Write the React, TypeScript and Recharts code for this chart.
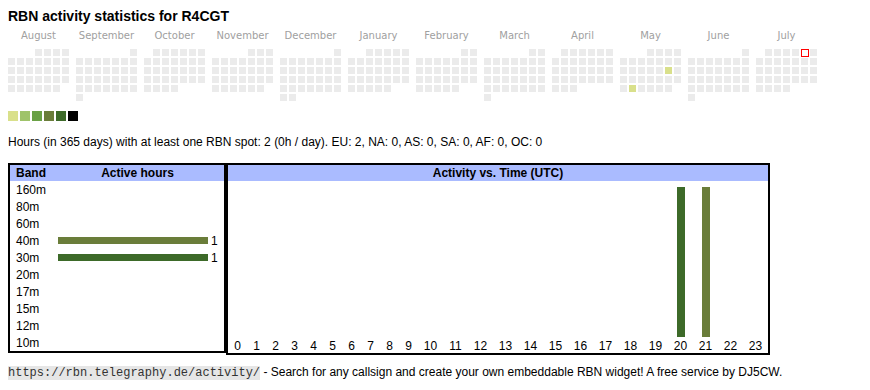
import React from 'react';
import { ScatterChart, Scatter, XAxis, YAxis, BarChart, Bar, Cell, LabelList } from 'recharts';

const MONTHS = ['August', 'September', 'October', 'November', 'December', 'January', 'February', 'March', 'April', 'May', 'June', 'July'];
const MONTH_DAYS = [31, 30, 31, 30, 31, 31, 28, 31, 30, 31, 30, 31];
// weekday of the 1st, Monday = 0 (Aug 2024 .. Jul 2025)
const MONTH_FIRST_WEEKDAY = [3, 6, 1, 4, 6, 2, 5, 5, 1, 3, 6, 1];
const ACTIVE_DAYS = [
  { month: 'May', day: 17, level: 1 },
  { month: 'May', day: 27, level: 1 },
];
const TODAY = { month: 'July', day: 5 };
const LEVEL_COLORS = ['#d9e08b', '#9fc36a', '#6aa146', '#6a7d3a', '#3d6a29', '#000000'];

const BANDS = ['160m', '80m', '60m', '40m', '30m', '20m', '17m', '15m', '12m', '10m'];
const BAND_HOURS = [0, 0, 0, 1, 1, 0, 0, 0, 0, 0];
const BAND_COLORS: Record<string, string> = { '40m': '#6a7d3a', '30m': '#3d6a29' };

const HOURS = [0, 1, 2, 3, 4, 5, 6, 7, 8, 9, 10, 11, 12, 13, 14, 15, 16, 17, 18, 19, 20, 21, 22, 23];
const HOURLY_30M = [0, 0, 0, 0, 0, 0, 0, 0, 0, 0, 0, 0, 0, 0, 0, 0, 0, 0, 0, 0, 1, 0, 0, 0];
const HOURLY_40M = [0, 0, 0, 0, 0, 0, 0, 0, 0, 0, 0, 0, 0, 0, 0, 0, 0, 0, 0, 0, 0, 1, 0, 0];

const FONT = "'Liberation Sans', Arial, sans-serif";

// calendar: one block of 7 weekday columns per month, 9px per cell, 68px per month
const MONTH_STEP = 68 / 9;
const X_MAX = (MONTHS.length - 1) * MONTH_STEP + 6;
const calendar = MONTHS.flatMap((m, mi) =>
  Array.from({ length: MONTH_DAYS[mi] }, (_, d) => {
    const slot = MONTH_FIRST_WEEKDAY[mi] + d;
    const act = ACTIVE_DAYS.find(a => a.month === m && a.day === d + 1);
    return {
      x: mi * MONTH_STEP + (slot % 7),
      row: Math.floor(slot / 7),
      level: act ? act.level : 0,
      today: TODAY.month === m && TODAY.day === d + 1,
    };
  })
);
const monthTicks = MONTHS.map((_, i) => i * MONTH_STEP + 3);

const DayCell = (props: any) => {
  const { cx, cy, payload } = props;
  if (payload.today) {
    // red frame around today's (empty) cell
    return (
      <g>
        <rect x={cx - 3.5} y={cy - 3.5} width={8} height={8} fill="#ff0000" />
        <rect x={cx - 2.5} y={cy - 2.5} width={6} height={6} fill="#ffffff" />
      </g>
    );
  }
  const fill = payload.level ? LEVEL_COLORS[payload.level - 1] : '#ebebeb';
  return <rect x={cx - 3.5} y={cy - 3.5} width={7} height={7} fill={fill} />;
};

const bandData = BANDS.map((b, i) => ({ band: b, hours: BAND_HOURS[i] }));

const BandTick = ({ y, payload }: any) => (
  <text x={6} y={y} dy="0.355em" fontSize={12} fontFamily={FONT} fill="#000">
    {payload.value}
  </text>
);

// hour columns are as wide as their label: one digit 19px, two digits 25px
const colWidth = (h: number) => (String(h).length === 1 ? 19 : 25);
const hourCenters = HOURS.map((h, i) => HOURS.slice(0, i).reduce((s, k) => s + colWidth(k), 0) + colWidth(h) / 2);
const hourTotal = HOURS.reduce((s, h) => s + colWidth(h), 0);
const hourData = HOURS.map((h, i) => ({ hour: h, pos: hourCenters[i], b30: HOURLY_30M[i], b40: HOURLY_40M[i] }));

export default function App() {
  return (
    <div style={{ position: 'absolute', left: 0, top: 0, width: 870, height: 390, background: '#fff', fontFamily: FONT, color: '#000' }}>
      <div style={{ position: 'absolute', left: 8, top: 8, fontSize: 14, lineHeight: '16px', fontWeight: 'bold', whiteSpace: 'nowrap' }}>
        RBN activity statistics for R4CGT
      </div>

      <div style={{ position: 'absolute', left: 0, top: 20 }}>
        <ScatterChart width={822} height={82} margin={{ top: 0, right: 4, bottom: 0, left: 7 }}>
          <XAxis
            type="number"
            dataKey="x"
            domain={[-0.5, X_MAX + 0.5]}
            ticks={monthTicks}
            tickFormatter={(v: number) => MONTHS[Math.round((v - 3) / MONTH_STEP)]}
            orientation="top"
            height={28}
            axisLine={false}
            tickLine={false}
            tickSize={7}
            tickMargin={2.5}
            interval={0}
            tick={{ fill: '#a0a0a0', fontSize: 10, fontFamily: "'DejaVu Sans', Verdana, sans-serif" }}
          />
          <YAxis type="number" dataKey="row" domain={[-0.5, 5.5]} reversed hide width={0} />
          <Scatter data={calendar} shape={DayCell} isAnimationActive={false} />
        </ScatterChart>
      </div>

      {LEVEL_COLORS.map((c, i) => (
        <div key={c} style={{ position: 'absolute', left: 8 + i * 12, top: 111, width: 10, height: 10, background: c }} />
      ))}

      <div style={{ position: 'absolute', left: 8, top: 134, fontSize: 12, lineHeight: '16px', whiteSpace: 'nowrap' }}>
        Hours (in 365 days) with at least one RBN spot: 2 (0h / day). EU: 2, NA: 0, AS: 0, SA: 0, AF: 0, OC: 0
      </div>

      {/* band table */}
      <div style={{ position: 'absolute', left: 8, top: 163, width: 218, height: 190, border: '2px solid #000', boxSizing: 'border-box' }} />
      <div style={{ position: 'absolute', left: 10, top: 165, width: 214, height: 16, background: '#aabbff' }} />
      <div style={{ position: 'absolute', left: 16, top: 165, fontSize: 12, lineHeight: '16px', fontWeight: 'bold' }}>Band</div>
      <div style={{ position: 'absolute', left: 51, top: 165, width: 173, textAlign: 'center', fontSize: 12, lineHeight: '16px', fontWeight: 'bold' }}>
        Active hours
      </div>
      <div style={{ position: 'absolute', left: 10, top: 181 }}>
        <BarChart layout="vertical" width={214} height={170} data={bandData} margin={{ top: 0, right: 16, bottom: 0, left: 0 }} barCategoryGap={0}>
          <XAxis type="number" domain={[0, 'dataMax']} hide />
          <YAxis type="category" dataKey="band" width={48} axisLine={false} tickLine={false} tick={<BandTick />} interval={0} />
          <Bar dataKey="hours" barSize={7} isAnimationActive={false}>
            {bandData.map(d => (
              <Cell key={d.band} fill={BAND_COLORS[d.band] || '#6a7d3a'} />
            ))}
            <LabelList
              dataKey="hours"
              position="right"
              offset={3}
              formatter={(v: any) => (v ? v : '')}
              fill="#000"
              fontSize={12}
              fontFamily={FONT}
            />
          </Bar>
        </BarChart>
      </div>

      {/* activity vs time */}
      <div style={{ position: 'absolute', left: 226, top: 163, width: 544, height: 192, border: '2px solid #000', boxSizing: 'border-box' }} />
      <div style={{ position: 'absolute', left: 228, top: 165, width: 540, height: 16, background: '#aabbff' }} />
      <div style={{ position: 'absolute', left: 228, top: 165, width: 540, textAlign: 'center', fontSize: 12, lineHeight: '16px', fontWeight: 'bold' }}>
        Activity vs. Time (UTC)
      </div>
      <div style={{ position: 'absolute', left: 228, top: 181 }}>
        <BarChart width={hourTotal} height={172} data={hourData} margin={{ top: 6, right: 0, bottom: 0, left: 0 }}>
          <XAxis
            type="number"
            dataKey="pos"
            domain={[0, hourTotal]}
            ticks={hourCenters}
            tickFormatter={(v: number) => String(HOURS[hourCenters.indexOf(v)])}
            height={16}
            axisLine={false}
            tickLine={false}
            tickSize={0}
            tickMargin={4}
            interval={0}
            tick={{ fill: '#000', fontSize: 12, fontFamily: FONT }}
          />
          <YAxis type="number" domain={[0, 'dataMax']} hide width={0} />
          <Bar dataKey="b30" stackId="h" fill="#3d6a29" barSize={8} isAnimationActive={false} />
          <Bar dataKey="b40" stackId="h" fill="#6a7d3a" barSize={8} isAnimationActive={false} />
        </BarChart>
      </div>

      <div style={{ position: 'absolute', left: 8, top: 364, fontSize: 12, lineHeight: '16px', whiteSpace: 'nowrap' }}>
        <code style={{ fontFamily: "'Liberation Mono', 'Courier New', monospace", fontSize: 12, background: '#e6e6e6', color: '#333' }}>
          https://rbn.telegraphy.de/activity/
        </code>{' '}
        - Search for any callsign and create your own embeddable RBN widget! A free service by DJ5CW.
      </div>
    </div>
  );
}
